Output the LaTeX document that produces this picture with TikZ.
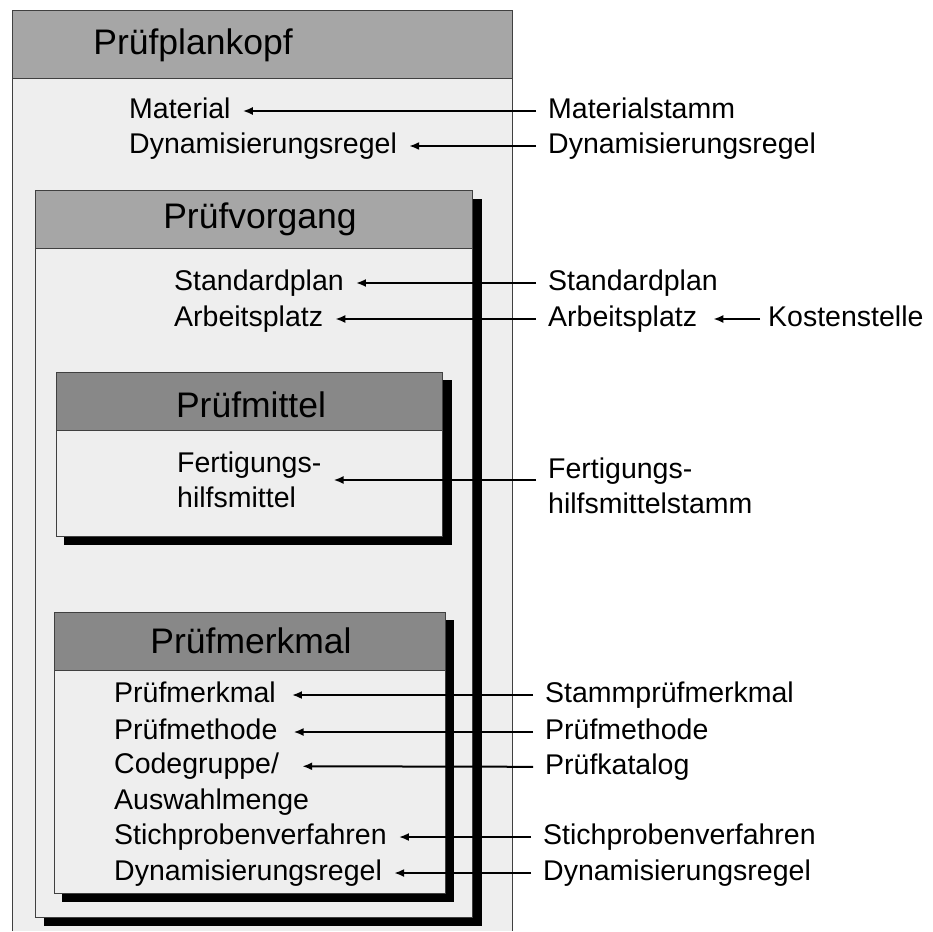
\documentclass[tikz,border=0pt]{standalone}
\usepackage{fontspec}
\setmainfont{Liberation Sans}
\usetikzlibrary{arrows.meta, positioning}
\definecolor{bodygray}{HTML}{EEEEEE}
\definecolor{headgray}{HTML}{A6A6A6}
\definecolor{darkhead}{HTML}{888888}
\definecolor{edgegray}{HTML}{404040}

\begin{document}
\begin{tikzpicture}[x=1pt, y=-1pt, >=Latex,
  frame/.style={draw=edgegray, line width=0.9pt},
  shadow/.style={fill=black},
  head/.style={inner sep=0pt, font=\fontsize{35.5}{40}\selectfont},
  entry/.style={inner sep=0pt, anchor=west, text height=20pt, text depth=6pt,
    font=\fontsize{28.5}{35}\selectfont},
  twoline/.style={inner sep=0pt, anchor=west, align=left,
    font=\fontsize{28.5}{35}\selectfont},
  link/.style={-{Latex[length=10pt, width=8pt]}, line width=2pt,
    shorten >=12pt, shorten <=12pt}]
  \useasboundingbox (0,0) rectangle (933,931);

  % Pruefplankopf
  \fill[bodygray] (12,10) rectangle (512,931);
  \draw[frame] (12,931) -- (12,10) -- (512,10) -- (512,931);
  \draw[frame, fill=headgray] (12,10) rectangle (512,78);
  \node[head] (kopf) at (193,45) {Prüfplankopf};

  % Pruefvorgang
  \fill[shadow] (44,199) rectangle (482,926);
  \draw[frame, fill=bodygray] (35,190) rectangle (472,917);
  \draw[frame, fill=headgray] (35,190) rectangle (472,248);
  \node[head] (vorgang) at (260,219) {Prüfvorgang};

  % Pruefmittel
  \fill[shadow] (64,380) rectangle (452,545);
  \draw[frame, fill=bodygray] (56,372) rectangle (442,536);
  \draw[frame, fill=darkhead] (56,372) rectangle (442,430);
  \node[head] (mittel) at (251,405) {Prüfmittel};

  % Pruefmerkmal
  \fill[shadow] (62,620) rectangle (454,902);
  \draw[frame, fill=bodygray] (54,612) rectangle (445,893);
  \draw[frame, fill=darkhead] (54,612) rectangle (445,670);
  \node[head] (merkmal) at (251,641) {Prüfmerkmal};

  % fields inside the plan
  \node[entry] (lMaterial) at (129,111) {Material};
  \node[entry] (lDynKopf) at (129,146) {Dynamisierungsregel};
  \node[entry] (lStdplan) at (174,283) {Standardplan};
  \node[entry] (lArbplatz) at (174,319) {Arbeitsplatz};
  \node[twoline] (lFert) at (177,480) {Fertigungs-\\hilfsmittel};
  \node[entry] (lPm) at (114,695) {Prüfmerkmal};
  \node[entry] (lPmeth) at (114,732) {Prüfmethode};
  \node[entry] (lCode) at (114,766) {Codegruppe/};
  \node[entry] (lAusw) at (114,802) {Auswahlmenge};
  \node[entry] (lStich) at (114,837) {Stichprobenverfahren};
  \node[entry] (lDynPm) at (114,873) {Dynamisierungsregel};

  % master data
  \node[entry] (rMatstamm) at (548,111) {Materialstamm};
  \node[entry] (rDynKopf) at (548,146) {Dynamisierungsregel};
  \node[entry] (rStdplan) at (548,283) {Standardplan};
  \node[entry] (rArbplatz) at (548,319) {Arbeitsplatz};
  \node[entry] (rKosten) at (768,319) {Kostenstelle};
  \node[twoline] (rFert) at (548,486) {Fertigungs-\\hilfsmittelstamm};
  \node[entry] (rStammpm) at (545,695) {Stammprüfmerkmal};
  \node[entry] (rPmeth) at (545,732) {Prüfmethode};
  \node[entry] (rKatalog) at (545,767) {Prüfkatalog};
  \node[entry] (rStich) at (543,837) {Stichprobenverfahren};
  \node[entry] (rDynPm) at (543,873) {Dynamisierungsregel};

  \draw[link] (rMatstamm) -- (lMaterial);
  \draw[link] (rDynKopf) -- (lDynKopf);
  \draw[link] (rStdplan) -- (lStdplan);
  \draw[link] (rArbplatz) -- (lArbplatz);
  \draw[link, shorten <=8pt, shorten >=16pt] (rKosten) -- (rArbplatz);
  \draw[link] (rFert.west |- lFert.east) -- (lFert.east);
  \draw[link, shorten >=16pt] (rStammpm) -- (lPm);
  \draw[link, shorten >=16pt] (rPmeth) -- (lPmeth);
  \draw[link, shorten >=23pt] (rKatalog) -- (lCode);
  \draw[link] (rStich) -- (lStich);
  \draw[link] (rDynPm) -- (lDynPm);
\end{tikzpicture}
\end{document}
